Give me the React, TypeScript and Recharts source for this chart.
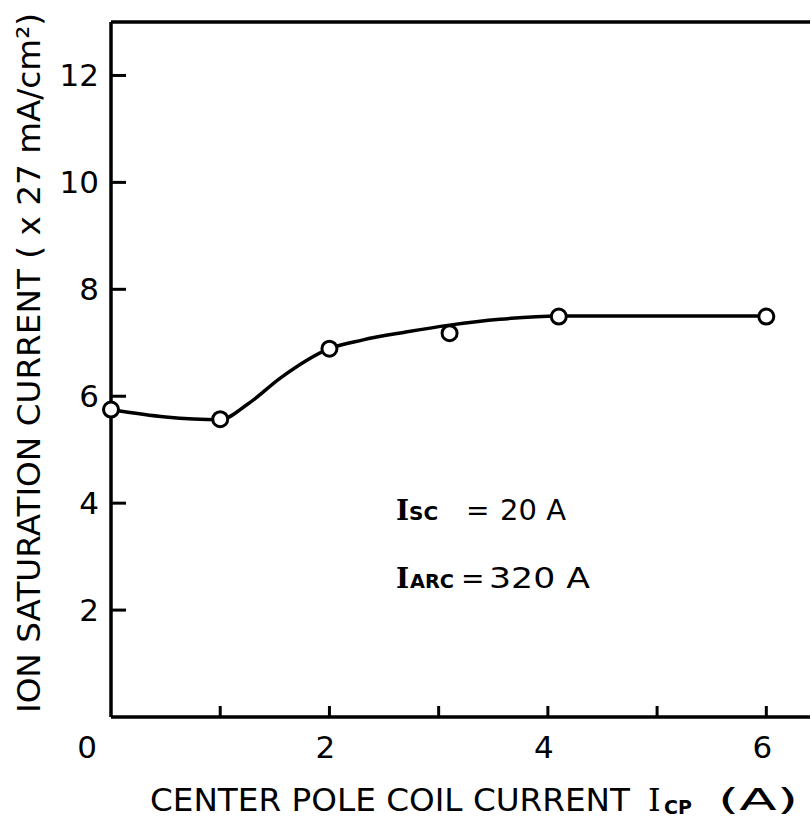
import React from 'react';
import { ComposedChart, Line, XAxis, YAxis, ReferenceLine, Customized } from 'recharts';

// measured points (circles)
const pointCurrent = [0, 1, 2, 3.1, 4.1, 6];
const pointIon = [5.75, 5.57, 6.89, 7.18, 7.49, 7.49];

// hand-drawn fitted curve
const curveCurrent = [0, 0.5, 1.0, 1.25, 1.55, 2.0, 2.3, 2.7, 3.1, 3.56, 4.1, 5, 6];
const curveIon = [5.75, 5.61, 5.56, 5.85, 6.34, 6.89, 7.05, 7.2, 7.33, 7.44, 7.5, 7.5, 7.5];

const xTicks = [0, 1, 2, 3, 4, 5, 6];
const xTickLabels = ['0', '', '2', '', '4', '', '6'];
const yTicks = [2, 4, 6, 8, 10, 12];
const yTickLabels = ['2', '4', '6', '8', '10', '12'];

const points = pointCurrent.map((c, i) => ({ current: c, ion: pointIon[i] }));
const curve = curveCurrent.map((c, i) => ({ current: c, ion: curveIon[i] }));

const FONT = '"DejaVu Sans", sans-serif';

const XTick = (props: any) => {
  const { x, y, payload, index } = props;
  const label = xTickLabels[index] ?? '';
  return (
    <g>
      {payload.value !== 0 && <line x1={x} y1={y} x2={x} y2={y - 11} stroke="#000" strokeWidth={3} />}
      {label && (
        <text x={payload.value === 0 ? x - 24 : x - 4} y={y + 41} textAnchor="middle" fontSize={31} fontFamily={FONT} fill="#000">
          {label}
        </text>
      )}
    </g>
  );
};

const YTick = (props: any) => {
  const { x, y, index } = props;
  return (
    <g>
      <line x1={x} y1={y} x2={x + 15} y2={y} stroke="#000" strokeWidth={3} />
      <text x={x - 12} y={y + 11} textAnchor="end" fontSize={31} fontFamily={FONT} fill="#000">
        {yTickLabels[index]}
      </text>
    </g>
  );
};

const Labels = () => (
  <g fill="#000">
    <text
      transform="translate(40,363) rotate(-90)"
      textAnchor="middle"
      fontSize={32}
      fontFamily={FONT}
      textLength={700}
      lengthAdjust="spacingAndGlyphs"
    >
      ION  SATURATION  CURRENT ( x 27 mA/cm²)
    </text>
    <text x={150} y={811} fontSize={32} fontFamily={FONT} textLength={480} lengthAdjust="spacingAndGlyphs">
      CENTER  POLE COIL CURRENT
    </text>
    <text x={648} y={811} fontSize={32} fontFamily='"DejaVu Serif", serif'>I</text>
    <text x={664} y={814} fontSize={19} fontFamily={FONT} fontWeight="bold">CP</text>
    <text x={718} y={810} fontSize={31} fontFamily={FONT} textLength={80} lengthAdjust="spacingAndGlyphs">(A)</text>

    <text x={396} y={520} fontSize={28} fontFamily='"DejaVu Serif", serif' fontWeight="bold">I</text>
    <text x={409} y={520} fontSize={20} fontFamily={FONT} fontWeight="bold">SC</text>
    <text x={466} y={520} fontSize={28} fontFamily={FONT}>=</text>
    <text x={500} y={520} fontSize={29} fontFamily={FONT} textLength={66} lengthAdjust="spacingAndGlyphs">20 A</text>

    <text x={396} y={588} fontSize={28} fontFamily='"DejaVu Serif", serif' fontWeight="bold">I</text>
    <text x={410} y={588} fontSize={20} fontFamily={FONT} fontWeight="bold" textLength={44} lengthAdjust="spacingAndGlyphs">ARC</text>
    <text x={461} y={588} fontSize={28} fontFamily={FONT}>=</text>
    <text x={489} y={588} fontSize={29} fontFamily={FONT} textLength={101} lengthAdjust="spacingAndGlyphs">320 A</text>
  </g>
);

export default function App() {
  return (
    <div style={{ position: 'absolute', left: 0, top: 0, width: 811, height: 821, background: '#fff' }}>
      <ComposedChart width={811} height={821} margin={{ top: 22, right: 1, bottom: 74, left: 51 }}>
        <XAxis
          dataKey="current"
          type="number"
          domain={[0, 6.4]}
          ticks={xTicks}
          height={30}
          tickSize={0}
          tickMargin={0}
          tickLine={false}
          axisLine={{ stroke: '#000', strokeWidth: 3.5 }}
          tick={<XTick />}
          interval={0}
        />
        <YAxis
          type="number"
          domain={[0, 13]}
          ticks={yTicks}
          width={60}
          tickSize={0}
          tickMargin={0}
          tickLine={false}
          axisLine={{ stroke: '#000', strokeWidth: 3.5 }}
          tick={<YTick />}
          interval={0}
        />
        <ReferenceLine y={13} stroke="#000" strokeWidth={3.5} />
        <Line
          data={curve}
          dataKey="ion"
          type="monotone"
          stroke="#000"
          strokeWidth={3.5}
          dot={false}
          isAnimationActive={false}
        />
        <Line
          data={points}
          dataKey="ion"
          stroke="none"
          dot={{ r: 7.5, fill: '#fff', stroke: '#000', strokeWidth: 3 }}
          activeDot={false}
          isAnimationActive={false}
        />
        <Customized component={Labels} />
      </ComposedChart>
    </div>
  );
}
